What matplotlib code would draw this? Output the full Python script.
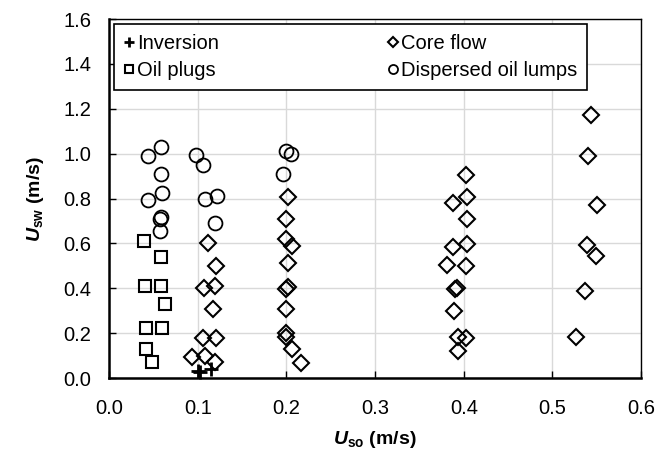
import matplotlib
matplotlib.use('Agg')
import matplotlib.pyplot as plt

plt.rcParams['font.family'] = ['Liberation Sans', 'DejaVu Sans']
plt.rcParams['mathtext.fontset'] = 'custom'
plt.rcParams['mathtext.it'] = 'Liberation Sans:italic:bold'
plt.rcParams['mathtext.bf'] = 'Liberation Sans:bold'
plt.rcParams['mathtext.rm'] = 'Liberation Sans'

# Inversion
inv_x = [0.100, 0.103, 0.115]
inv_y = [0.030, 0.028, 0.039]

# Oil plugs
plug_x = [0.039, 0.059, 0.040, 0.058, 0.063, 0.042, 0.060, 0.042, 0.048]
plug_y = [0.61, 0.54, 0.41, 0.41, 0.33, 0.225, 0.225, 0.13, 0.073]

# Core flow
core_x = [0.111, 0.121, 0.107, 0.120, 0.117, 0.106, 0.121, 0.093, 0.108, 0.120,
          0.202, 0.200, 0.200, 0.206, 0.202, 0.202, 0.200, 0.200, 0.200, 0.200, 0.206, 0.216,
          0.403, 0.388, 0.404, 0.404, 0.388, 0.404, 0.381, 0.403, 0.392, 0.390, 0.389, 0.393, 0.403, 0.393,
          0.543, 0.540, 0.550, 0.539, 0.549, 0.537, 0.526]
core_y = [0.60, 0.50, 0.40, 0.41, 0.31, 0.18, 0.18, 0.095, 0.098, 0.073,
          0.805, 0.708, 0.62, 0.59, 0.512, 0.405, 0.395, 0.307, 0.202, 0.185, 0.128, 0.068,
          0.906, 0.78, 0.805, 0.708, 0.586, 0.597, 0.504, 0.50, 0.403, 0.398, 0.30, 0.184, 0.18, 0.12,
          1.174, 0.988, 0.772, 0.594, 0.542, 0.39, 0.184]

# Dispersed oil lumps
lump_x = [0.044, 0.058, 0.058, 0.044, 0.060, 0.058, 0.057, 0.057,
          0.098, 0.106, 0.108, 0.122, 0.120, 0.200, 0.205, 0.196]
lump_y = [0.99, 1.03, 0.91, 0.795, 0.825, 0.72, 0.71, 0.655,
          0.995, 0.95, 0.80, 0.81, 0.69, 1.01, 1.00, 0.91]

fig = plt.figure(figsize=(6.61, 4.55), dpi=100)
ax = fig.add_axes([0.165, 0.169, 0.805, 0.789])

ax.plot(inv_x, inv_y, '+', color='black', markersize=10, markeredgewidth=2,
        label='Inversion', clip_on=False, zorder=3)
ax.plot(plug_x, plug_y, 's', mfc='none', mec='black', markersize=8.5, markeredgewidth=1.5,
        label='Oil plugs', zorder=3)
ax.plot(core_x, core_y, 'D', mfc='none', mec='black', markersize=8, markeredgewidth=1.5,
        label='Core flow', zorder=3)
ax.plot(lump_x, lump_y, 'o', mfc='none', mec='black', markersize=10, markeredgewidth=1.3,
        label='Dispersed oil lumps', zorder=3)

ax.set_xlim(0, 0.6)
ax.set_ylim(0, 1.6)
ax.set_xticks([0.0, 0.1, 0.2, 0.3, 0.4, 0.5, 0.6])
ax.set_yticks([0.0, 0.2, 0.4, 0.6, 0.8, 1.0, 1.2, 1.4, 1.6])
ax.xaxis.set_major_formatter(matplotlib.ticker.FormatStrFormatter('%.1f'))
ax.yaxis.set_major_formatter(matplotlib.ticker.FormatStrFormatter('%.1f'))
ax.tick_params(direction='in', length=5, width=1, labelsize=14.5, colors='black')
ax.tick_params(axis='x', pad=15)
ax.tick_params(axis='y', pad=13)
ax.grid(True, color='#d9d9d9', linewidth=1)
ax.set_axisbelow(True)
for s in ['left', 'bottom']:
    ax.spines[s].set_linewidth(1.8)
for s in ['top', 'right']:
    ax.spines[s].set_linewidth(1.0)

ax.set_xlabel(r'$U_{\mathbf{so}}$ (m/s)', fontsize=14, fontweight='bold', labelpad=8)
ax.set_ylabel(r'$U_{\mathbf{sw}}$ (m/s)', fontsize=14, fontweight='bold', labelpad=12)

leg = ax.legend(ncol=2, loc='upper left', bbox_to_anchor=(0.0094, 0.811, 0.889, 0.175),
                mode='expand', fontsize=14.5, markerscale=0.65, handlelength=0.5,
                handletextpad=0.15, fancybox=False, edgecolor='black', framealpha=1,
                borderaxespad=0, labelspacing=0.4, borderpad=0.5)
leg.get_frame().set_linewidth(1.2)

fig.savefig('out.png', dpi=100)
